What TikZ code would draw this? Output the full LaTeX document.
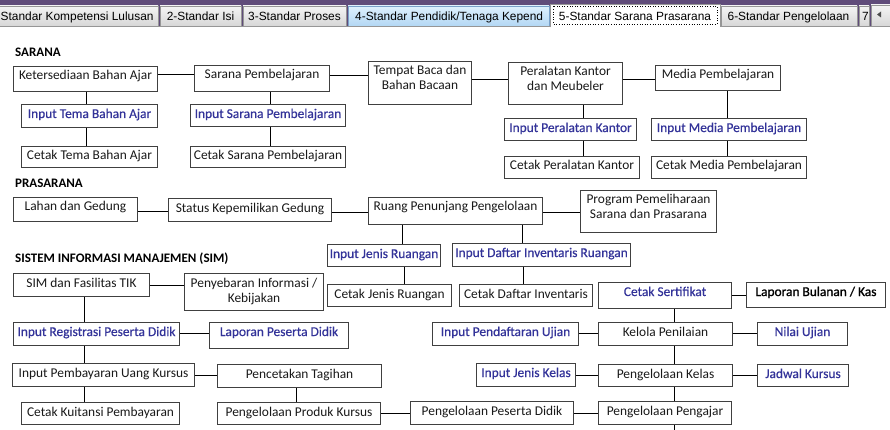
\documentclass[tikz,border=0pt]{standalone}
\usepackage{fontspec}
\setmainfont{Carlito}
\newfontfamily\tabfont{Liberation Sans}
\newfontfamily\semibold[FakeBold=0.5]{Carlito}
\newfontfamily\heavier[FakeBold=1.2]{Carlito}
\definecolor{bxline}{RGB}{64,64,64}
\definecolor{blu}{RGB}{51,51,153}
\definecolor{txt}{RGB}{25,25,25}
\definecolor{purp}{RGB}{96,76,122}
\definecolor{tabA}{RGB}{244,244,244}
\definecolor{tabB}{RGB}{214,214,214}
\definecolor{tabborder}{RGB}{150,150,150}
\definecolor{tabblueA}{RGB}{222,240,253}
\definecolor{tabblueB}{RGB}{178,215,244}
\definecolor{tabblueborder}{RGB}{120,160,200}
\newcommand\mkbox[7][]{%
  \pgfmathsetmacro\bxw{#5-#3}%
  \pgfmathsetmacro\bxh{#6-#4}%
  \pgfmathsetmacro\bxd{#6-#4-13.5}%
  \node[box,#1,minimum width=\bxw pt,minimum height=\bxh pt,text depth=\bxd pt] (#2) at (#3,#4) {#7};}
\newcommand\two[2]{\begin{tabular}[t]{@{}c@{}}#1\\#2\end{tabular}}
\begin{document}
\begin{tikzpicture}[x=1pt,y=-1pt,
  font=\fontsize{13.4}{15}\selectfont,
  box/.style={draw=bxline, line width=1pt, fill=white, inner sep=0pt, anchor=north west,
    text height=13.5pt, text=txt},
  inp/.style={text=blu, font=\semibold\fontsize{13.4}{15}\selectfont},
  blk/.style={text=black, font=\heavier\fontsize{13.4}{15}\selectfont},
  conn/.style={line width=1pt, draw=black},
  hdr/.style={anchor=base west, inner sep=0pt, text=black, font=\fontsize{13}{15}\selectfont\bfseries},
  tabbox/.style={draw=tabborder, line width=0.8pt, top color=tabA, bottom color=tabB},
  tabtxt/.style={anchor=base, inner sep=0pt, text=black, font=\tabfont\fontsize{11.9}{14}\selectfont}]
\useasboundingbox (0,0) rectangle (890,430);
\fill[white] (0,0) rectangle (890,430);
% ---------- tab bar ----------
\fill[purp] (0,0) rectangle (890,27);
\draw[tabbox] (-3,6) rectangle (158,26.5);
\draw[tabbox] (160,6) rectangle (241,26.5);
\draw[tabbox] (243,6) rectangle (346,26.5);
\draw[draw=tabblueborder, line width=0.8pt, top color=tabblueA, bottom color=tabblueB] (348,6) rectangle (549,26.5);
\draw[tabbox] (721,6) rectangle (857,26.5);
\draw[tabbox] (859,6) rectangle (869,26.5);
\draw[tabbox] (871,5) rectangle (891,27);
\fill[black!70] (877,14.5) -- (881,11.5) -- (881,17.5) -- cycle;
\fill[white] (0,26.5) rectangle (890,28);
\draw[tabborder, line width=0.8pt] (0,26.8) -- (890,26.8);
\draw[draw=tabborder, line width=0.8pt, fill=white] (550,27.5) -- (550,4) -- (720,4) -- (720,27.5);
\fill[white] (550.5,26) rectangle (719.5,28.5);
\draw[black, line width=0.6pt, dotted] (553,6.5) rectangle (717,24);
\node[tabtxt, anchor=base west] (t1) at (0.5,21) {Standar Kompetensi Lulusan};
\node[tabtxt] (t2) at (200.5,21) {2-Standar Isi};
\node[tabtxt] (t3) at (294.5,21) {3-Standar Proses};
\begin{scope}
\clip (348,6) rectangle (549,26);
\node[tabtxt, anchor=base west] (t4) at (355,21) {4-Standar Pendidik/Tenaga Kepend};
\end{scope}
\node[tabtxt] (t5) at (635,21) {5-Standar Sarana Prasarana};
\node[tabtxt] (t6) at (788.5,21) {6-Standar Pengelolaan};
\begin{scope}
\clip (859,6) rectangle (869,26);
\node[tabtxt, anchor=base west] (t7) at (862,21) {7};
\end{scope}
% ---------- headers ----------
\node[hdr] (h1) at (15,57) {SARANA};
\node[hdr] (h2) at (15,188) {PRASARANA};
\node[hdr] (h3) at (15,262) {SISTEM INFORMASI MANAJEMEN (SIM)};
% ---------- SARANA ----------
\mkbox{ket}{13}{66}{157}{91}{Ketersediaan Bahan Ajar}
\mkbox{sp}{194}{65}{329}{91}{Sarana Pembelajaran}
\mkbox{tb}{368}{61}{471}{104}{\two{Tempat Baca dan}{Bahan Bacaan}}
\mkbox{pk}{508}{62}{622}{104}{\two{Peralatan Kantor}{dan Meubeler}}
\mkbox{mp}{655}{65}{780}{90}{Media Pembelajaran}
\mkbox[inp]{itb}{21}{104}{157}{127}{Input Tema Bahan Ajar}
\mkbox{ctb}{21}{146}{157}{167}{Cetak Tema Bahan Ajar}
\mkbox[inp]{isp}{190}{104}{345}{126}{Input Sarana Pembelajaran}
\mkbox{csp}{190}{146}{345}{167}{Cetak Sarana Pembelajaran}
\mkbox[inp]{ipk}{504}{118}{636}{140}{Input Peralatan Kantor}
\mkbox{cpk}{504}{156}{639}{178}{Cetak Peralatan Kantor}
\mkbox[inp]{imp}{651}{118}{806}{140}{Input Media Pembelajaran}
\mkbox{cmp}{651}{156}{806}{178}{Cetak Media Pembelajaran}
\draw[conn] (ket.east |- 0,75) -- (sp.west |- 0,75);
\draw[conn] (sp.east |- 0,76) -- (tb.west |- 0,76);
\draw[conn] (tb.east |- 0,80) -- (pk.west |- 0,80);
\draw[conn] (pk.east |- 0,80) -- (mp.west |- 0,80);
\draw[conn] (ket.south -| 86,0) -- (itb.north -| 86,0);
\draw[conn] (itb.south -| 86,0) -- (ctb.north -| 86,0);
\draw[conn] (sp.south -| 270,0) -- (isp.north -| 270,0);
\draw[conn] (isp.south -| 270,0) -- (csp.north -| 270,0);
\draw[conn] (pk.south -| 583,0) -- (ipk.north -| 583,0);
\draw[conn] (ipk.south -| 583,0) -- (cpk.north -| 583,0);
\draw[conn] (mp.south -| 727,0) -- (imp.north -| 727,0);
\draw[conn] (imp.south -| 727,0) -- (cmp.north -| 727,0);
% ---------- PRASARANA ----------
\mkbox{lg}{13}{197}{137}{221}{Lahan dan Gedung}
\mkbox{skg}{168}{198}{331}{221}{Status Kepemilikan Gedung}
\mkbox{rpp}{368}{197}{542}{224}{Ruang Penunjang Pengelolaan}
\mkbox{ppsp}{580}{190}{716}{232}{\two{Program Pemeliharaan}{Sarana dan Prasarana}}
\mkbox[inp]{ijr}{327}{244}{440}{266}{Input Jenis Ruangan}
\mkbox[inp]{idir}{452}{243}{630}{266}{Input Daftar Inventaris Ruangan}
\mkbox{cjr}{327}{284}{451}{306}{Cetak Jenis Ruangan}
\mkbox{cdi}{459}{284}{592}{306}{Cetak Daftar Inventaris}
\draw[conn] (lg.east |- 0,212) -- (skg.west |- 0,212);
\draw[conn] (skg.east |- 0,213) -- (rpp.west |- 0,213);
\draw[conn] (rpp.east |- 0,213) -- (ppsp.west |- 0,213);
\draw[conn] (rpp.south -| 402,0) -- (ijr.north -| 402,0);
\draw[conn] (ijr.south -| 404,0) -- (cjr.north -| 404,0);
\draw[conn] (rpp.south -| 522,0) -- (idir.north -| 522,0);
\draw[conn] (idir.south -| 523,0) -- (cdi.north -| 523,0);
% ---------- SIM ----------
\mkbox{sim}{13}{273}{149}{296}{SIM dan Fasilitas TIK}
\mkbox{pik}{184}{273}{323}{310}{\two{Penyebaran Informasi /}{Kebijakan}}
\mkbox[inp]{irpd}{13}{322}{179}{345}{Input Registrasi Peserta Didik}
\mkbox[inp]{lpd}{209}{322}{348}{348}{Laporan Peserta Didik}
\mkbox{ipuk}{12}{363}{194}{386}{Input Pembayaran Uang Kursus}
\mkbox{ckp}{21}{402}{179}{424}{Cetak Kuitansi Pembayaran}
\mkbox{pt}{217}{364}{381}{387}{Pencetakan Tagihan}
\mkbox{ppk}{217}{402}{380}{424}{Pengelolaan Produk Kursus}
\mkbox{ppd}{410}{401}{573}{424}{Pengelolaan Peserta Didik}
\mkbox{ppj}{598}{401}{731}{424}{Pengelolaan Pengajar}
\mkbox{pkls}{598}{364}{732}{386}{Pengelolaan Kelas}
\mkbox[inp]{ijk}{476}{363}{575}{386}{Input Jenis Kelas}
\mkbox[inp]{jk}{757}{364}{848}{386}{Jadwal Kursus}
\mkbox{kp}{598}{322}{732}{345}{Kelola Penilaian}
\mkbox[inp]{ipu}{432}{322}{578}{345}{Input Pendaftaran Ujian}
\mkbox[inp]{nu}{757}{322}{847}{345}{Nilai Ujian}
\mkbox[inp]{cs}{598}{282}{731}{308}{Cetak Sertifikat}
\mkbox[blk]{lbk}{746}{282}{885}{307}{Laporan Bulanan / Kas}
\coordinate (bot) at (674,431);
\draw[conn] (sim.east |- 0,285) -- (pik.west |- 0,285);
\draw[conn] (sim.south -| 84,0) -- (irpd.north -| 84,0);
\draw[conn] (irpd.east |- 0,333) -- (lpd.west |- 0,333);
\draw[conn] (irpd.south -| 84,0) -- (ipuk.north -| 84,0);
\draw[conn] (ipuk.south -| 84,0) -- (ckp.north -| 84,0);
\draw[conn] (ipuk.east |- 0,375) -- (pt.west |- 0,375);
\draw[conn] (pt.south -| 296,0) -- (ppk.north -| 296,0);
\draw[conn] (ppk.east |- 0,413) -- (ppd.west |- 0,413);
\draw[conn] (ppd.east |- 0,413) -- (ppj.west |- 0,413);
\draw[conn] (ppj.south -| bot) -- (bot);
\draw[conn] (pkls.south -| 674,0) -- (ppj.north -| 674,0);
\draw[conn] (kp.south -| 674,0) -- (pkls.north -| 674,0);
\draw[conn] (cs.south -| 674,0) -- (kp.north -| 674,0);
\draw[conn] (cs.east |- 0,295) -- (lbk.west |- 0,295);
\draw[conn] (ipu.east |- 0,333) -- (kp.west |- 0,333);
\draw[conn] (kp.east |- 0,333) -- (nu.west |- 0,333);
\draw[conn] (ijk.east |- 0,375) -- (pkls.west |- 0,375);
\draw[conn] (pkls.east |- 0,375) -- (jk.west |- 0,375);
\end{tikzpicture}
\end{document}
